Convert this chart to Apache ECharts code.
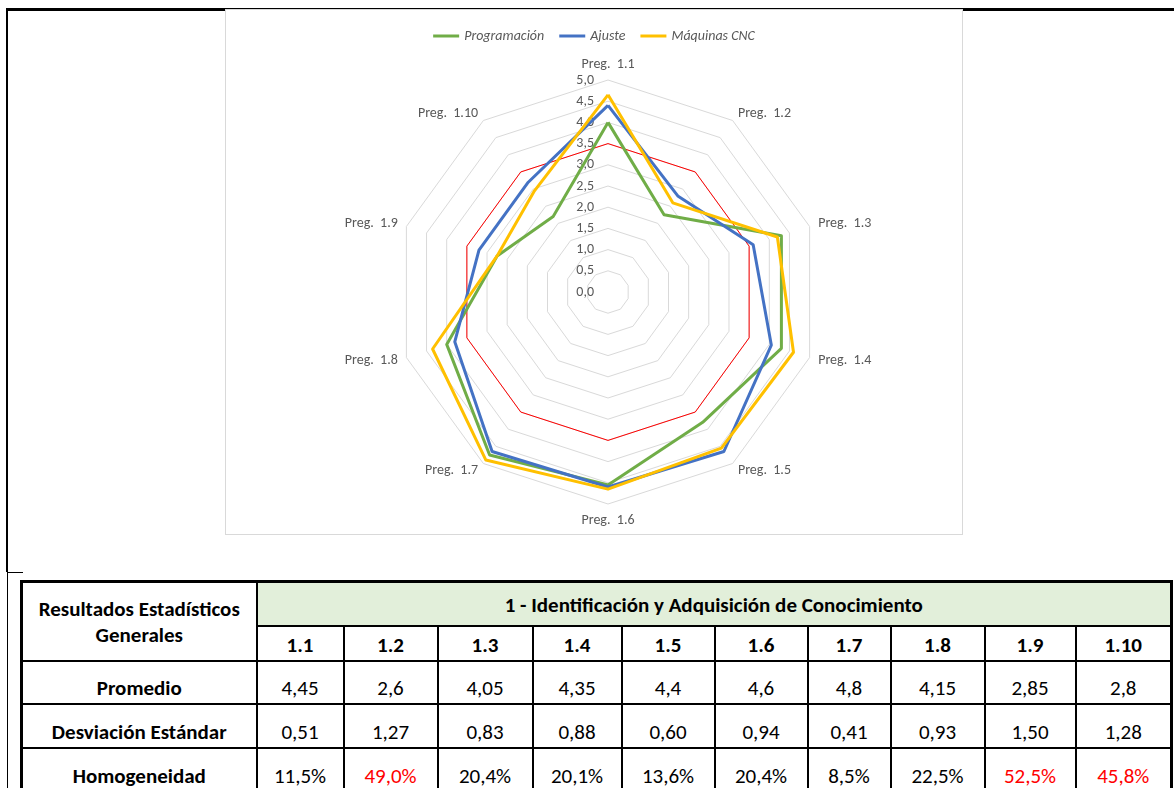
<!DOCTYPE html>
<html>
<head>
<meta charset="utf-8">
<script src="https://cdn.jsdelivr.net/npm/echarts@6/dist/echarts.min.js"></script>
<style>
  html, body { margin: 0; padding: 0; background: #fff; }
  body { width: 1174px; height: 788px; position: relative; overflow: hidden;
         font-family: Carlito, Lato, "Liberation Sans", sans-serif; }
  .rule { position: absolute; background: #000; }
  #chart { position: absolute; left: 225px; top: 9px; width: 738px; height: 526px;
           box-sizing: border-box; border: 1px solid #d9d9d9; background: #fff; }
  #stats { position: absolute; left: 20px; top: 580px; border-collapse: collapse;
           table-layout: fixed; border: 3px solid #000; border-bottom: none; }
  #stats td { border: 2px solid #000; text-align: center; vertical-align: bottom;
              padding: 0 0 3px 0; font-size: 21px; color: #000; line-height: 24px; white-space: nowrap; }
  #stats td.b { font-weight: bold; }
  #stats td.title { background: #e2efda; font-weight: bold; padding-bottom: 8px; }
  #stats td.hi { color: #ff0000; }
</style>
</head>
<body>
<!-- page frame around the chart cell -->
<div class="rule" style="left:6px;top:8px;width:1168px;height:3px"></div>
<div class="rule" style="left:6px;top:8px;width:2px;height:564px"></div>
<div class="rule" style="left:7px;top:572px;width:16px;height:1px"></div>
<div class="rule" style="left:7px;top:572px;width:1px;height:216px"></div>
<div class="rule" style="left:1172px;top:580px;width:1px;height:208px"></div>

<div id="chart"></div>
<table id="stats"></table>

<script>
// Questions of block 1
const questions = ['Preg.  1.1', 'Preg.  1.2', 'Preg.  1.3', 'Preg.  1.4', 'Preg.  1.5',
                   'Preg.  1.6', 'Preg.  1.7', 'Preg.  1.8', 'Preg.  1.9', 'Preg.  1.10'];
const questionCodes = ['1.1', '1.2', '1.3', '1.4', '1.5', '1.6', '1.7', '1.8', '1.9', '1.10'];

// Average score per course
const programacion = [4.0, 2.25, 4.3, 4.3, 3.8, 4.55, 4.75, 4.0, 2.75, 2.2];
const ajuste       = [4.4, 2.8, 3.6, 4.05, 4.65, 4.6, 4.65, 3.8, 3.2, 3.2];
const maquinasCNC  = [4.65, 2.6, 4.2, 4.6, 4.55, 4.65, 4.9, 4.35, 2.75, 2.95];
// Reference level
const umbral       = [3.5, 3.5, 3.5, 3.5, 3.5, 3.5, 3.5, 3.5, 3.5, 3.5];

const seriesNames = ['Programación', 'Ajuste', 'Máquinas CNC'];
const seriesColors = ['#70ad47', '#4472c4', '#ffc000'];

// Statistics table
const blockTitle = '1 - Identificación y Adquisición de Conocimiento';
const promedio     = [4.45, 2.6, 4.05, 4.35, 4.4, 4.6, 4.8, 4.15, 2.85, 2.8];
const desviacion   = [0.51, 1.27, 0.83, 0.88, 0.60, 0.94, 0.41, 0.93, 1.50, 1.28];
const homogeneidad = [11.5, 49.0, 20.4, 20.1, 13.6, 20.4, 8.5, 22.5, 52.5, 45.8];

const fontFamily = 'Carlito, Lato, "Liberation Sans", sans-serif';
const textGray = '#595959';

// ECharts lays radar axes counter-clockwise; place the questions clockwise from the top
const order = [0, 9, 8, 7, 6, 5, 4, 3, 2, 1];
const pick = arr => order.map(i => arr[i]);

const indicators = order.map((i, k) => {
  const ind = { name: questions[i], min: 0, max: 5 };
  if (k === 0) ind.axisLabel = { show: true };
  return ind;
});

const chart = echarts.init(document.getElementById('chart'), null, { renderer: 'canvas' });
chart.setOption({
  animation: false,
  backgroundColor: '#fff',
  color: seriesColors.concat(['#ff0000']),
  legend: {
    data: seriesNames,
    top: 14,
    left: 'center',
    icon: 'rect',
    itemWidth: 26,
    itemHeight: 3,
    itemGap: 15,
    textStyle: { color: textGray, fontSize: 14, fontStyle: 'italic', fontFamily: fontFamily }
  },
  radar: {
    center: [382, 282],
    radius: 212,
    startAngle: 90,
    splitNumber: 10,
    shape: 'polygon',
    indicator: indicators,
    nameGap: 9,
    axisName: { color: textGray, fontSize: 14, fontFamily: fontFamily },
    axisLine: { show: false },
    axisTick: { show: false },
    splitArea: { show: false },
    splitLine: { lineStyle: { color: '#d9d9d9', width: 1 } },
    axisLabel: {
      show: false,
      color: textGray,
      fontSize: 14,
      fontFamily: fontFamily,
      margin: 14,
      formatter: v => v.toFixed(1).replace('.', ',')
    }
  },
  series: [{
    type: 'radar',
    symbol: 'none',
    data: [
      { name: 'umbral', value: pick(umbral), lineStyle: { color: '#ff0000', width: 1 }, itemStyle: { color: '#ff0000' } },
      { name: seriesNames[0], value: pick(programacion), lineStyle: { color: seriesColors[0], width: 3 }, itemStyle: { color: seriesColors[0] } },
      { name: seriesNames[1], value: pick(ajuste), lineStyle: { color: seriesColors[1], width: 3 }, itemStyle: { color: seriesColors[1] } },
      { name: seriesNames[2], value: pick(maquinasCNC), lineStyle: { color: seriesColors[2], width: 3 }, itemStyle: { color: seriesColors[2] } }
    ]
  }]
});

// Statistics table below the chart
const colWidths = [235, 87, 94, 95, 89, 93, 93, 83, 94, 91, 96];
const rowHeights = [44, 35, 43, 44, 44];
const fmt = (v, d) => v.toFixed(d).replace('.', ',');
const fmtMean = v => String(v).replace('.', ',');

const table = document.getElementById('stats');
let html = '<colgroup>' + colWidths.map(w => '<col style="width:' + w + 'px">').join('') + '</colgroup>';
html += '<tr style="height:' + rowHeights[0] + 'px"><td class="b" rowspan="2" style="vertical-align:middle;padding:2px 0 0 0;line-height:26px">Resultados Estadísticos<br>Generales</td>' +
        '<td class="title" colspan="10">' + blockTitle + '</td></tr>';
html += '<tr style="height:' + rowHeights[1] + 'px">' + questionCodes.map(c => '<td class="b">' + c + '</td>').join('') + '</tr>';
html += '<tr style="height:' + rowHeights[2] + 'px"><td class="b">Promedio</td>' + promedio.map(v => '<td>' + fmtMean(v) + '</td>').join('') + '</tr>';
html += '<tr style="height:' + rowHeights[3] + 'px"><td class="b">Desviación Estándar</td>' + desviacion.map(v => '<td>' + fmt(v, 2) + '</td>').join('') + '</tr>';
html += '<tr style="height:' + rowHeights[4] + 'px"><td class="b">Homogeneidad</td>' +
        homogeneidad.map(v => '<td' + (v > 40 ? ' class="hi"' : '') + '>' + fmt(v, 1) + '%</td>').join('') + '</tr>';
table.innerHTML = html;
</script>
</body>
</html>
